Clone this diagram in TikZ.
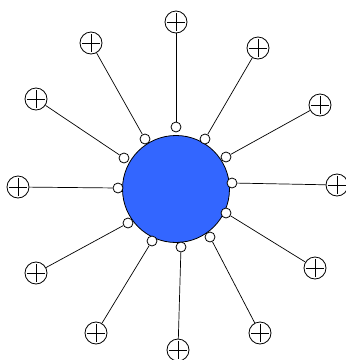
\documentclass[tikz,border=0pt]{standalone}
\usepackage{xcolor}
\usepackage{tikz}
\definecolor{hubblue}{HTML}{3366FF}

\begin{document}
\begin{tikzpicture}[x=1pt,y=-1pt,
hub/.style={circle,draw,line width=.8pt,fill=hubblue,minimum size=107pt,inner sep=0pt},
port/.style={circle,draw,line width=.8pt,fill=white,minimum size=10pt,inner sep=0pt},
plus/.style={circle,draw,line width=.8pt,fill=white,minimum size=22pt,inner sep=0pt,
  path picture={\draw[line width=.8pt] ([yshift=-2pt]path picture bounding box.north)--([yshift=2pt]path picture bounding box.south);
  \draw[line width=.8pt] ([xshift=2pt]path picture bounding box.west)--([xshift=-2pt]path picture bounding box.east);}},
wire/.style={line width=.7pt}]
\useasboundingbox (0,0) rectangle (346,360);
\node[hub] (c) at (176,189) {};
% ports on the rim
\node[port] (p1) at (176,127) {};
\node[port] (p2) at (205,139) {};
\node[port] (p3) at (226,157) {};
\node[port] (p4) at (232,183) {};
\node[port] (p5) at (226,213) {};
\node[port] (p6) at (210,237) {};
\node[port] (p7) at (181,247) {};
\node[port] (p8) at (152,241) {};
\node[port] (p9) at (128,223) {};
\node[port] (p10) at (118,188) {};
\node[port] (p11) at (124,158) {};
\node[port] (p12) at (145,139) {};
% outer terminals
\node[plus] (t1) at (176,22) {};
\node[plus] (t2) at (258,48) {};
\node[plus] (t3) at (320,105) {};
\node[plus] (t4) at (337,185) {};
\node[plus] (t5) at (315,268) {};
\node[plus] (t6) at (260,333) {};
\node[plus] (t7) at (178,350) {};
\node[plus] (t8) at (96,333) {};
\node[plus] (t9) at (36,273) {};
\node[plus] (t10) at (18,187) {};
\node[plus] (t11) at (36,99) {};
\node[plus] (t12) at (91,43) {};
\draw[wire] (p1)--(t1); \draw[wire] (p2)--(t2); \draw[wire] (p3)--(t3);
\draw[wire] (p4)--(t4); \draw[wire] (p5)--(t5); \draw[wire] (p6)--(t6);
\draw[wire] (p7)--(t7); \draw[wire] (p8)--(t8); \draw[wire] (p9)--(t9);
\draw[wire] (p10)--(t10); \draw[wire] (p11)--(t11); \draw[wire] (p12)--(t12);
\end{tikzpicture}
\end{document}
